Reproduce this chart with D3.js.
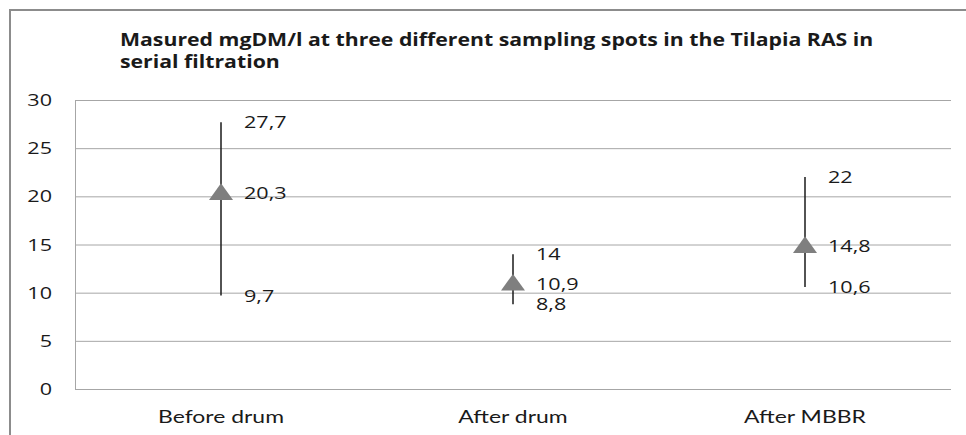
<!DOCTYPE html>
<html>
<head>
<meta charset="utf-8">
<script src="https://cdn.jsdelivr.net/npm/d3@7"></script>
<style>
  body { margin: 0; background: #fff; }
  text { fill: #1a1a1a; }
</style>
</head>
<body>
<div id="chart"></div>
<script>
const categories = ["Before drum", "After drum", "After MBBR"];
const means = [20.3, 10.9, 14.8];
const highs = [27.7, 14, 22];
const lows = [9.7, 8.8, 10.6];
const yTicks = [0, 5, 10, 15, 20, 25, 30];
const titleLines = [
    "Masured mgDM/l at three different sampling spots in the Tilapia RAS in",
    "serial filtration"
];

document.addEventListener("DOMContentLoaded", draw)

function fmt(v){
    return String(v).replace(".", ",");
}

function draw(){
    const width = 966;
    const height = 435;
    const margin = {top: 100, right: 15, bottom: 46, left: 75};
    const sx = 1.35; // the picture is stretched sideways

    const svg = d3.select("#chart").append("svg")
        .attr("width", width)
        .attr("height", height);

    // outer frame (only left and top edges are visible)
    svg.append("path")
        .attr("d", "M10," + height + "V10H" + width)
        .attr("fill", "none")
        .attr("stroke", "#8c8c8c")
        .attr("stroke-width", 2);

    const x = d3.scaleBand()
        .domain(categories)
        .range([margin.left, width - margin.right]);
    const y = d3.scaleLinear()
        .domain([0, 30])
        .range([height - margin.bottom, margin.top]);

    // title
    titleLines.forEach((t, i) => {
        svg.append("text")
            .attr("transform", "translate(120," + (46 + i * 22) + ") scale(1.25,1)")
            .attr("font-family", "'Open Sans', sans-serif")
            .attr("font-weight", "bold")
            .attr("font-size", 17)
            .text(t);
    });

    // grid
    svg.append("g")
        .selectAll("line")
        .data(yTicks)
        .enter()
        .append("line")
        .attr("x1", margin.left)
        .attr("x2", width - margin.right)
        .attr("y1", d => y(d) + 0.5)
        .attr("y2", d => y(d) + 0.5)
        .attr("stroke", "#a6a6a6")
        .attr("stroke-width", 1);

    svg.append("line")
        .attr("x1", margin.left + 0.5)
        .attr("x2", margin.left + 0.5)
        .attr("y1", y(30))
        .attr("y2", y(0))
        .attr("stroke", "#a6a6a6");

    // y tick labels
    svg.append("g")
        .selectAll("text")
        .data(yTicks)
        .enter()
        .append("text")
        .attr("transform", d => "translate(52," + (y(d) + 6) + ") scale(" + sx + ",1)")
        .attr("text-anchor", "end")
        .attr("font-family", "'Open Sans', sans-serif")
        .attr("font-size", 16)
        .text(d => d);

    // category labels
    svg.append("g")
        .selectAll("text")
        .data(categories)
        .enter()
        .append("text")
        .attr("transform", d => "translate(" + (x(d) + x.bandwidth() / 2) + ",423) scale(1.35,1)")
        .attr("text-anchor", "middle")
        .attr("font-family", "Lato, sans-serif")
        .attr("font-size", 17)
        .text(d => d);

    const cx = i => x(categories[i]) + x.bandwidth() / 2;

    // high-low lines
    svg.append("g")
        .selectAll("line")
        .data(categories)
        .enter()
        .append("line")
        .attr("x1", (d, i) => cx(i))
        .attr("x2", (d, i) => cx(i))
        .attr("y1", (d, i) => y(highs[i]))
        .attr("y2", (d, i) => y(lows[i]))
        .attr("stroke", "#1a1a1a")
        .attr("stroke-width", 1.5);

    // mean markers
    const tri = d3.symbol().type(d3.symbolTriangle).size(160);
    svg.append("g")
        .selectAll("path")
        .data(categories)
        .enter()
        .append("path")
        .attr("d", tri)
        .attr("transform", (d, i) => "translate(" + cx(i) + "," + (y(means[i]) + 1) + ") scale(1.25,1)")
        .attr("fill", "#7f7f7f");

    // value labels
    const labels = [];
    categories.forEach((c, i) => {
        labels.push({i: i, v: highs[i]});
        labels.push({i: i, v: means[i]});
        labels.push({i: i, v: lows[i]});
    });
    svg.append("g")
        .selectAll("text")
        .data(labels)
        .enter()
        .append("text")
        .attr("transform", d => "translate(" + (cx(d.i) + 23) + "," + (y(d.v) + 6) + ") scale(" + sx + ",1)")
        .attr("font-family", "'Open Sans', sans-serif")
        .attr("font-size", 16)
        .text(d => fmt(d.v));
}
</script>
</body>
</html>
